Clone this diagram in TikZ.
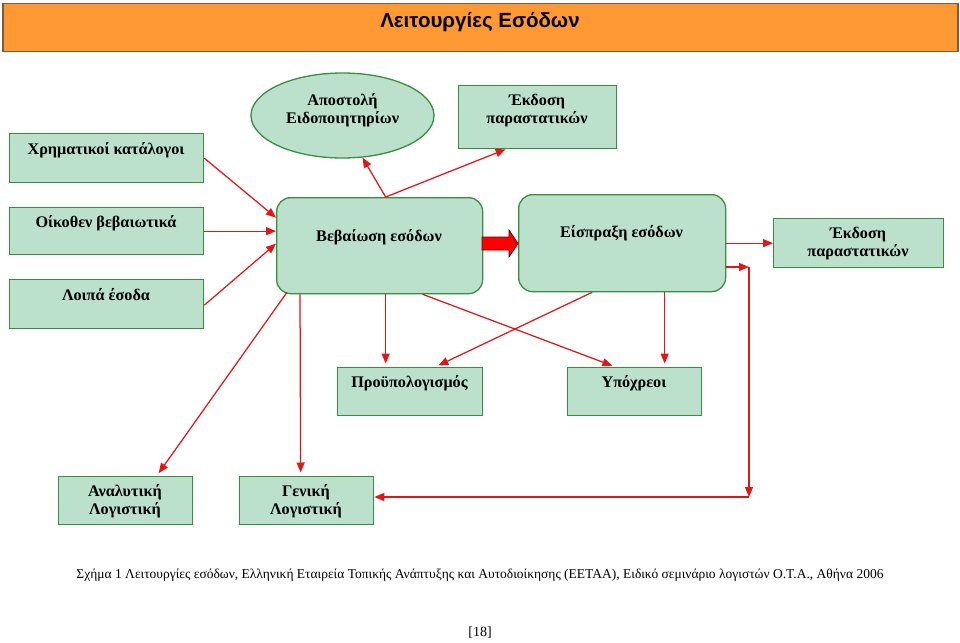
\documentclass[tikz,border=0pt]{standalone}
\usepackage{fontspec}
\setmainfont{Liberation Serif}
\newfontfamily\titlefont{Liberation Sans}
\usetikzlibrary{shapes.geometric,arrows.meta}
\definecolor{boxfill}{RGB}{187,225,205}
\definecolor{boxline}{RGB}{56,142,60}
\definecolor{arrred}{RGB}{226,22,22}
\definecolor{titlefill}{RGB}{255,153,51}
\definecolor{titleline}{RGB}{125,92,60}
\begin{document}
\begin{tikzpicture}[x=1pt,y=-1pt,
 gbox/.style={draw=boxline, fill=boxfill, line width=1.3pt, inner sep=0pt, anchor=north west},
 rbox/.style={gbox, rounded corners=14pt},
 lbl/.style={font=\fontsize{16.2}{18}\selectfont\bfseries, align=center, inner sep=0pt},
 arr/.style={draw=arrred, line width=1.25pt, -{Triangle[length=10pt,width=8pt]}},
 arrs/.style={arr, shorten >=3.5pt},
]
\useasboundingbox (0,0) rectangle (960,642);
% title
\node[draw=titleline, fill=titlefill, line width=1.5pt, anchor=north west, minimum width=955pt, minimum height=48pt, inner sep=0pt] (title) at (2,3) {};
\node[font=\titlefont\bfseries\fontsize{20.5}{23}\selectfont, inner sep=0pt] (titleT) at (480,22) {Λειτουργίες Εσόδων};
% left boxes
\node[gbox, minimum width=194pt, minimum height=49pt] (chr) at (9,133) {};
\node[lbl] (chrT) at (106,150) {Χρηματικοί κατάλογοι};
\node[gbox, minimum width=194pt, minimum height=47pt] (oik) at (9,207) {};
\node[lbl] (oikT) at (106,223) {Οίκοθεν βεβαιωτικά};
\node[gbox, minimum width=194pt, minimum height=49pt] (loi) at (9,279) {};
\node[lbl] (loiT) at (106,295) {Λοιπά έσοδα};
% top
\node[ellipse, draw=boxline, fill=boxfill, line width=1.3pt, minimum width=183pt, minimum height=85pt, inner sep=0pt] (ell) at (342.5,115.5) {};
\node[lbl] (ellT) at (342.5,110) {Αποστολή\\Ειδοποιητηρίων};
\node[gbox, minimum width=158pt, minimum height=63pt] (ekt) at (458,85) {};
\node[lbl] (ektT) at (537,111) {Έκδοση\\παραστατικών};
% middle row
\node[rbox, minimum width=206pt, minimum height=96pt] (bev) at (276,197) {};
\node[lbl] (bevT) at (379,237) {Βεβαίωση εσόδων};
\node[rbox, minimum width=207pt, minimum height=97pt] (eis) at (518,194) {};
\node[lbl] (eisT) at (621.5,233) {Είσπραξη εσόδων};
\node[gbox, minimum width=170pt, minimum height=49pt] (ekr) at (773,218) {};
\node[lbl] (ekrT) at (858,244) {Έκδοση\\παραστατικών};
% lower boxes
\node[gbox, minimum width=145pt, minimum height=48pt] (pro) at (337,367) {};
\node[lbl] (proT) at (409.5,383) {Προϋπολογισμός};
\node[gbox, minimum width=134pt, minimum height=48pt] (ypo) at (567,367) {};
\node[lbl] (ypoT) at (634,383) {Υπόχρεοι};
\node[gbox, minimum width=134pt, minimum height=48pt] (ana) at (58,476) {};
\node[lbl] (anaT) at (125,501) {Αναλυτική\\Λογιστική};
\node[gbox, minimum width=134pt, minimum height=48pt] (gen) at (239,476) {};
\node[lbl] (genT) at (306,501) {Γενική\\Λογιστική};
% thick arrow
\draw[fill=red, draw=black!60!red, line width=0.7pt] (482,237) -- (509,237) -- (509,230) -- (518,243.5) -- (509,257) -- (509,250) -- (482,250) -- cycle;
% connectors
\draw[arr] (chr.east) -- ([yshift=28]bev.west);
\draw[arr] (oik.east) -- (oik.east -| bev.west);
\draw[arr] ([yshift=-1]loi.east) -- ([yshift=2]bev.west);
\draw[arr] ([xshift=6]bev.north) -- ([xshift=20,yshift=1]ell.south);
\draw[arr] ([xshift=6]bev.north) -- ([xshift=-32]ekt.south);
\draw[arrs] ([xshift=11,yshift=2]bev.south west) -- ([xshift=31]ana.north);
\draw[arrs] ([xshift=24]bev.south west) -- ([xshift=-6]gen.north);
\draw[arrs] ([xshift=6]bev.south) -- ([xshift=-24.5]pro.north);
\draw[arrs] ([xshift=43]bev.south) -- ([xshift=-19]ypo.north);
\draw[arrs] ([xshift=-30]eis.south) -- ([xshift=25]pro.north);
\draw[arrs] ([xshift=42.5]eis.south) -- ([xshift=30]ypo.north);
\draw[arr] (eis.east) -- (ekr.west);
\coordinate (c1) at (749,267);
\coordinate (c2) at (749,497);
\draw[arr] (eis.east |- c1) -- (c1);
\draw[arr] (c1) -- (c2);
\draw[arr] (c2) -- (gen.east |- c2);
% caption
\node[font=\fontsize{13.5}{15}\selectfont, inner sep=0pt] (cap) at (480,575) {Σχήμα 1 Λειτουργίες εσόδων, Ελληνική Εταιρεία Τοπικής Ανάπτυξης και Αυτοδιοίκησης (ΕΕΤΑΑ), Ειδικό σεμινάριο λογιστών Ο.Τ.Α., Αθήνα 2006};
\node[font=\fontsize{14}{16}\selectfont, inner sep=0pt] (page) at (480,633) {[18]};
\end{tikzpicture}
\end{document}
